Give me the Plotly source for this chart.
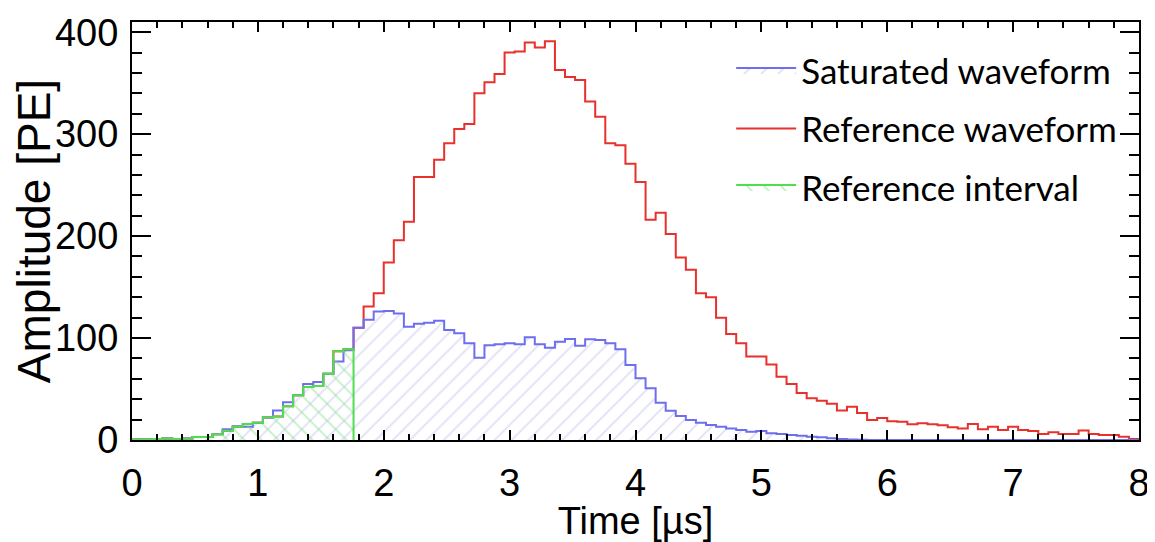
import numpy as np
import plotly.graph_objects as go

# ---- data: 100 bins of 0.08 us from 0 to 8 us ----
t_min, t_max, n_bins = 0.0, 8.0, 100

reference_waveform = [
    0.5, 0.5, 1, 1.5, 1, 1.5, 3, 3, 5.6, 9,
    13, 15.7, 17, 22, 23, 33, 44, 52, 53, 65,
    87, 89, 110, 131, 144, 174, 196, 214, 258, 258,
    275, 291, 305, 310, 340, 351, 359, 380, 381, 390,
    385, 391, 363, 356, 353, 332, 317, 291, 289, 271,
    253, 216, 223, 202, 179, 167, 144, 140, 120, 104,
    95, 82, 82, 74, 62, 55, 46, 41, 38.5, 35.5,
    29, 32.5, 26.5, 19.5, 21.5, 18.5, 18, 15.5, 16.5, 15.5,
    14.5, 12.5, 11.4, 15.7, 10.5, 13, 9.8, 13, 9.8, 8.8,
    5.9, 7.5, 5.9, 5.9, 9.2, 5.9, 4.9, 4.9, 3.3, 1,
]

saturated_waveform = [
    0.5, 0.5, 1, 1.5, 1, 1.5, 3, 3, 5.6, 10.5,
    13.6, 13, 17, 22, 29, 37, 44, 55, 57, 65,
    77, 88, 110, 118, 126, 126.5, 124, 111, 114, 115,
    117, 108, 104.6, 94.8, 80.7, 93, 94, 95, 94, 100.7,
    94, 90.5, 96.4, 99, 92.5, 98.7, 98, 94.8, 89, 73.5,
    60.5, 50.7, 36.6, 28.8, 23.5, 19.6, 17, 14.7, 13, 11.4,
    9.8, 8.2, 8.8, 6.5, 6, 4.9, 4.2, 3.3, 2.6, 1.6,
    1.0, 0.5, 0.2, 0, 0, 0, 0, 0, 0, 0,
    0, 0, 0, 0, 0, 0, 0, 0, 0, 0,
    0, 0, 0, 0, 0, 0, 0, 0, 0, 0,
]

interval_bins = 22  # reference interval: first 22 bins (0 - 1.76 us)

series_names = ["Saturated waveform", "Reference waveform", "Reference interval"]

# ---- build step outlines from bin edges ----
edges = np.linspace(t_min, t_max, n_bins + 1)

def step_xy(values, nb):
    x = list(edges[: nb + 1])
    y = list(values[:nb]) + [values[nb - 1]]
    return x, y

rx, ry = step_xy(reference_waveform, n_bins)
sx, sy = step_xy(saturated_waveform, n_bins)
gx = list(edges[: interval_bins + 1])
gy = list(reference_waveform[:interval_bins]) + [0]

fig = go.Figure()

fig.add_trace(go.Scatter(
    x=rx, y=ry, mode="lines", line=dict(shape="hv", color="#e8302c", width=2),
    name=series_names[1], legendrank=2, legendgroup="b",
))
fig.add_trace(go.Scatter(
    x=sx, y=sy, mode="lines", line=dict(shape="hv", color="#6e6ef0", width=2),
    fill="tozeroy", fillcolor="rgba(0,0,0,0)",
    fillpattern=dict(shape="/", fgcolor="#c0c0ee", bgcolor="rgba(255,255,255,0)", size=12, solidity=0.14),
    name=series_names[0], legendrank=1, legendgroup="a",
))
fig.add_trace(go.Scatter(
    x=gx, y=gy, mode="lines", line=dict(shape="hv", color="#4ede4e", width=2),
    fill="tozeroy", fillcolor="rgba(0,0,0,0)",
    fillpattern=dict(shape="\\", fgcolor="#7fe27f", bgcolor="rgba(255,255,255,0)", size=12, solidity=0.14),
    name=series_names[2], legendrank=3, legendgroup="c",
))

tick_font = dict(family="Liberation Sans, Arial, sans-serif", size=38, color="black")

fig.update_layout(
    width=1147, height=534,
    margin=dict(l=124, r=16, t=14, b=102, autoexpand=False),
    paper_bgcolor="white", plot_bgcolor="white",
    showlegend=True,
    legend=dict(
        x=0.595, y=0.955, xanchor="left", yanchor="top",
        bgcolor="rgba(255,255,255,0)", borderwidth=0,
        font=dict(family="Lato, Liberation Sans, sans-serif", size=35, color="black"),
        tracegroupgap=10, itemwidth=60,
    ),
    xaxis=dict(
        range=[t_min, t_max], dtick=1, tick0=0, automargin=False,
        ticks="inside", ticklen=10, tickwidth=2, tickcolor="black",
        minor=dict(ticks="inside", ticklen=6, dtick=0.2, tickwidth=1.5, tickcolor="black"),
        showline=True, linecolor="black", linewidth=2, mirror="allticks",
        showgrid=False, zeroline=False,
        tickfont=tick_font, ticklabelstandoff=8,
        title=dict(text="Time [µs]", font=dict(family="Liberation Sans, Arial, sans-serif", size=38, color="black"), standoff=4),
    ),
    yaxis=dict(
        range=[0, 410], dtick=100, tick0=0, automargin=False,
        ticks="inside", ticklen=19, tickwidth=2, tickcolor="black",
        minor=dict(ticks="inside", ticklen=10, dtick=20, tickwidth=1.5, tickcolor="black"),
        showline=True, linecolor="black", linewidth=2, mirror="allticks",
        showgrid=False, zeroline=False,
        tickfont=tick_font, ticklabelstandoff=4,
        title=dict(text="Amplitude [PE]", font=dict(family="Liberation Sans, Arial, sans-serif", size=46, color="black"), standoff=2),
    ),
)

fig.write_html("out.html")
